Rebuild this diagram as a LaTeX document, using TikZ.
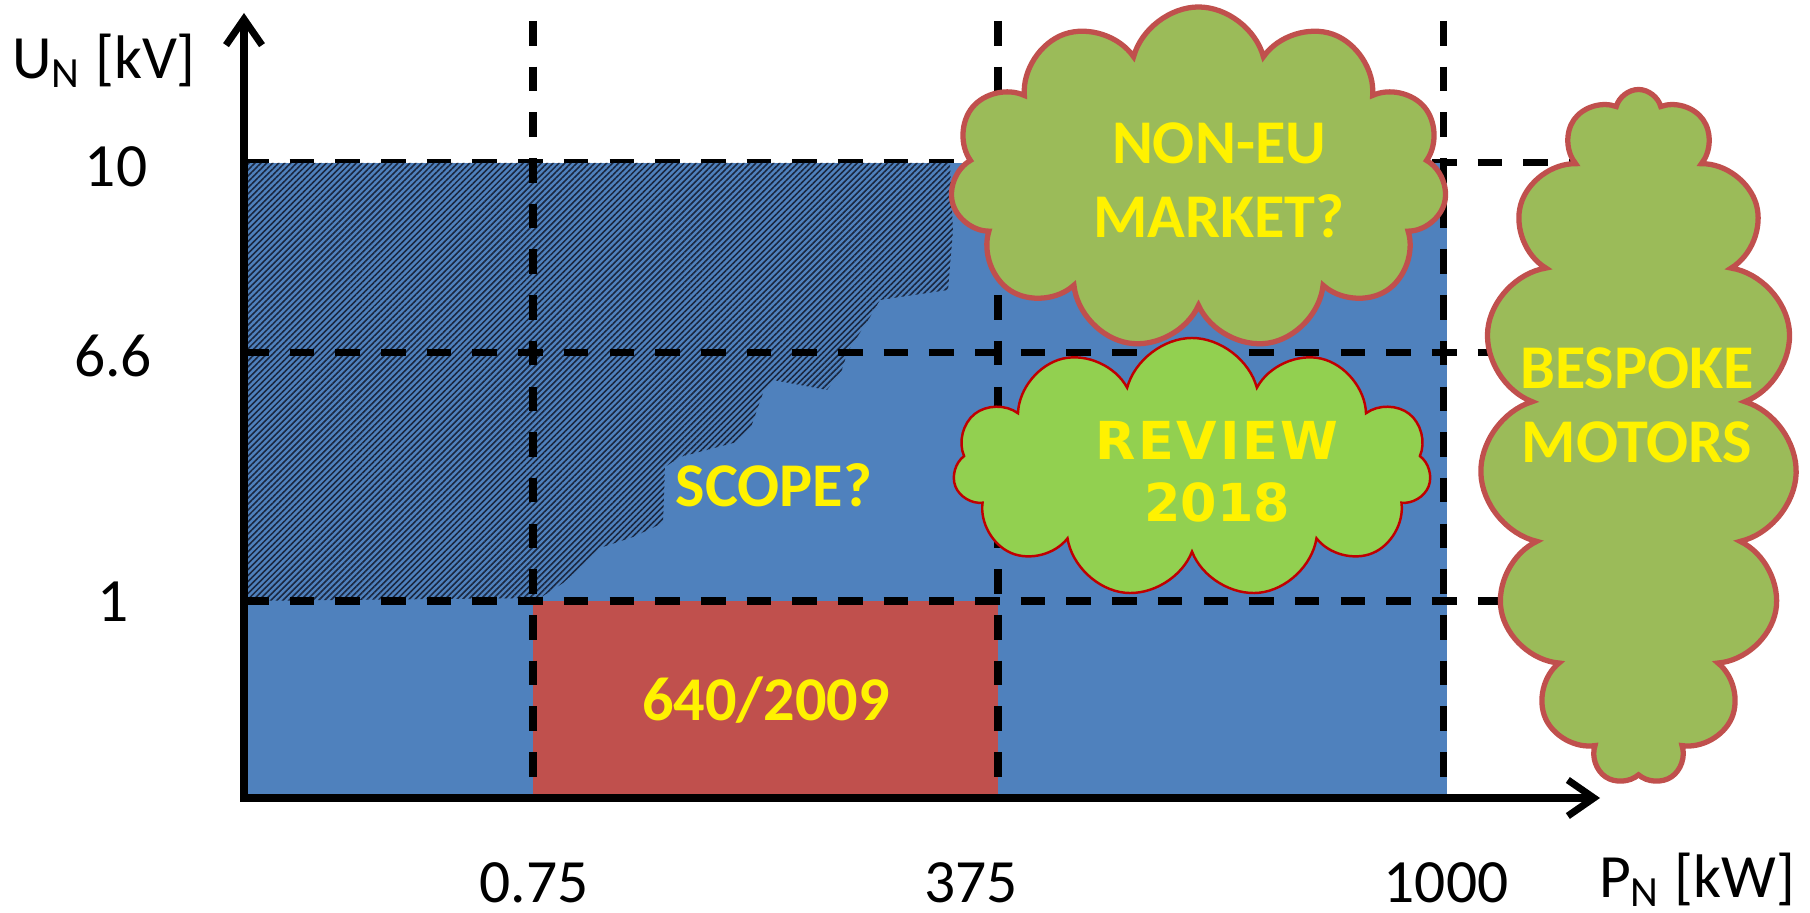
\documentclass[tikz,border=0pt]{standalone}
\usepackage{fontspec}
\setmainfont{Carlito}
\newfontfamily\verdanafont{DejaVu Sans}
\newfontfamily\reviewfont{DejaVu Sans}[LetterSpace=5]
\usetikzlibrary{shapes.symbols,patterns.meta,arrows.meta}

\definecolor{areablue}{HTML}{4F81BD}
\definecolor{areared}{HTML}{C0504D}
\definecolor{cloudolive}{HTML}{9BBB59}
\definecolor{cloudlime}{HTML}{92D050}
\definecolor{cloudedge}{HTML}{C0504D}
\definecolor{reviewedge}{HTML}{C00000}
\definecolor{hatchnavy}{HTML}{1A2740}

\tikzset{
	griddash/.style={line width=2pt, dash pattern=on 7pt off 6pt},
	axisline/.style={line width=2pt, line cap=round, {Straight Barb[length=2.6mm,width=3.6mm]}-{Straight Barb[length=2.6mm,width=3.6mm]}},
	ticklabel/.style={font=\fontsize{17.5}{21}\selectfont},
	bigcloud/.style={cloud, cloud ignores aspect, draw=cloudedge, fill=cloudolive, line width=1.5pt},
	reviewcloud/.style={cloud, cloud ignores aspect, draw=reviewedge, fill=cloudlime, line width=0.7pt},
	yellowtext/.style={text=yellow, align=center, font=\bfseries\fontsize{17.7}{21}\selectfont},
}

\begin{document}
\begin{tikzpicture}
		\useasboundingbox (0,0) rectangle (18.10,9.13);
		
		\coordinate (O) at (2.44,1.15);
		\coordinate (X) at (16.00,1.15);
		\coordinate (Y) at (2.44,9.00);
		
		\coordinate (A) at (5.33,8.92);
		\coordinate (B) at (9.98,8.92);
		\coordinate (C) at (14.43,8.92);
		\coordinate (D) at (2.44,3.12);
		\coordinate (E) at (2.44,5.60);
		\coordinate (F) at (2.44,7.50);
		
		\draw[griddash] (F) -- (15.76,7.50);
		
		%Areas
		\fill[areablue] (O) rectangle (14.47,7.50);
		\fill[pattern={Lines[angle=45,distance=1.2pt,line width=0.45pt]}, pattern color=hatchnavy]
			(F) -- (9.50,7.50) -- (9.53,6.83) -- (9.48,6.23) -- (8.80,6.13) -- (8.70,5.96)
			-- (8.47,5.60) -- (8.42,5.43) -- (8.27,5.23) -- (7.73,5.33) -- (7.63,5.20)
			-- (7.50,4.83) -- (7.37,4.71) -- (6.80,4.56) -- (6.65,4.46) -- (6.63,3.90)
			-- (6.33,3.76) -- (6.03,3.66) -- (5.63,3.30) -- (5.40,3.15) -- (D) -- cycle;
		\fill[areared] (A |- D) rectangle (B |- O);
		
		\node[yellowtext] (scope) at (7.74,4.28) {SCOPE?};
		\node[yellowtext] (directive) at (7.66,2.13) {640/2009};
		
		%Grid
		\draw[griddash] (D) -- (15.76,3.12);
		\draw[griddash] (E) -- (15.76,5.60);
		\draw[griddash] (A) -- (A |- O);
		\draw[griddash] (B) -- (B |- O);
		\draw[griddash] (C) -- (C |- O);
		
		%Axis
		\draw[axisline] (Y) -- (O) -- (X);
		
		\node[ticklabel] (u10) at (1.16,7.46) {10};
		\node[ticklabel] (u66) at (1.13,5.57) {6.6};
		\node[ticklabel] (u1) at (1.13,3.11) {1};
		\node[ticklabel] (ulabel) at (1.04,8.52) {U\textsubscript{N} [kV]};
		
		\node[ticklabel] (p075) at (5.34,0.30) {0.75};
		\node[ticklabel] (p375) at (9.71,0.30) {375};
		\node[ticklabel] (p1000) at (14.46,0.30) {1000};
		\node[ticklabel] (plabel) at (16.97,0.33) {P\textsubscript{N} [kW]};
		
		%Clouds
		\node[bigcloud, cloud puffs=11, minimum width=4.97cm, minimum height=3.43cm] (noneu) at (11.985,7.345) {};
		\node[yellowtext] (noneutext) at (12.19,7.33) {NON-EU\\MARKET?};
		
		\node[reviewcloud, cloud puffs=11, minimum width=4.78cm, minimum height=2.60cm] (review) at (11.92,4.45) {};
		\node[yellowtext, font=\verdanafont\bfseries\fontsize{14.9}{17.6}\selectfont] (reviewtext) at (12.17,4.41) {{\reviewfont\bfseries REVIEW}\\2018};
		
		\node[bigcloud, cloud puffs=15, cloud puff arc=150, minimum width=3.17cm, minimum height=6.95cm] (bespoke) at (16.385,4.76) {};
		\node[yellowtext] (bespoketext) at (16.37,5.08) {BESPOKE\\MOTORS};
		
\end{tikzpicture}
\end{document}
